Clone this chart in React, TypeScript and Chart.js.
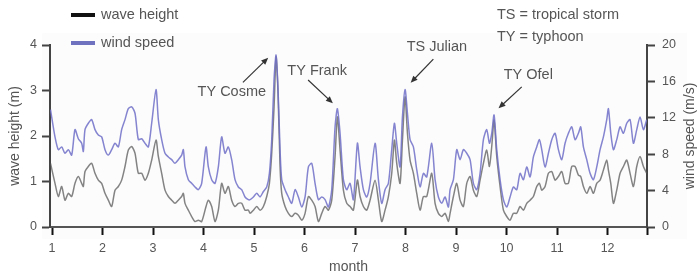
import React, { useEffect, useRef } from "react";
import { Chart, registerables } from "chart.js";

Chart.register(...registerables);

// ---- data (month as decimal) ----
const months = [
  0.97, 1.059, 1.125, 1.191, 1.257, 1.323, 1.389, 1.455, 1.521, 1.587, 1.62, 1.653, 1.719, 1.785, 1.851, 1.917,
  1.983, 2.049, 2.115, 2.181, 2.247, 2.313, 2.379, 2.445, 2.511, 2.577, 2.643, 2.709, 2.775, 2.841, 2.907, 2.973,
  3.059, 3.105, 3.171, 3.237, 3.303, 3.369, 3.435, 3.501, 3.567, 3.6, 3.633, 3.699, 3.765, 3.831, 3.897, 3.963,
  4.049, 4.095, 4.161, 4.227, 4.293, 4.359, 4.425, 4.491, 4.557, 4.623, 4.689, 4.755, 4.821, 4.887,
  4.921, 4.987, 5.053, 5.119, 5.185, 5.251, 5.304, 5.35, 5.396, 5.436, 5.475, 5.515, 5.548, 5.614, 5.68, 5.746,
  5.812, 5.878, 5.944, 6.01, 6.076, 6.142, 6.208, 6.274, 6.34, 6.406, 6.472, 6.538, 6.604, 6.65, 6.703, 6.769,
  6.835, 6.901, 6.967, 7.046, 7.099, 7.165, 7.231, 7.297, 7.396, 7.462, 7.528, 7.594, 7.66, 7.726, 7.779, 7.825,
  7.891, 7.938, 7.99, 8.037, 8.089, 8.155, 8.221, 8.287, 8.353, 8.419, 8.518, 8.584, 8.65, 8.716, 8.782, 8.848,
  8.881, 8.947, 9.013, 9.079, 9.145, 9.211, 9.277, 9.343, 9.409, 9.475, 9.541, 9.607, 9.66, 9.706, 9.752, 9.805,
  9.871, 9.937, 10.003, 10.069, 10.135, 10.201, 10.267, 10.333, 10.399, 10.465, 10.531, 10.597, 10.65, 10.696,
  10.762, 10.828, 10.894, 10.96, 11.026, 11.092, 11.158, 11.224, 11.29, 11.356, 11.422, 11.468, 11.521, 11.587,
  11.653, 11.719, 11.785, 11.851, 11.917, 11.983, 12.016, 12.063, 12.115, 12.181, 12.247, 12.313, 12.379, 12.445,
  12.511, 12.577, 12.643, 12.709, 12.775,
];

const windSpeed = [
  12.9, 9.9, 8.5, 8.8, 8.1, 8.5, 7.9, 10.7, 9.7, 9.2, 8.3, 10.7, 11.4, 11.8, 10.7, 10.1,
  9.9, 8.5, 7.9, 8.5, 9.2, 8.8, 10.7, 11.8, 13.0, 13.2, 12.5, 9.6, 9.7, 9.2, 8.8, 11.4,
  15.1, 11.8, 9.6, 8.1, 7.7, 7.4, 7.0, 7.4, 7.9, 8.5, 6.6, 5.2, 4.8, 4.4, 4.1, 4.8,
  8.8, 6.6, 5.2, 4.8, 6.6, 9.9, 8.1, 8.8, 7.4, 5.2, 4.4, 4.1, 3.3, 3.0,
  3.0, 3.3, 3.7, 3.3, 3.9, 4.4, 5.9, 9.6, 16.2, 18.9, 15.1, 8.5, 5.2, 4.1, 3.3, 2.6,
  4.1, 3.3, 2.2, 3.3, 6.6, 7.0, 4.8, 3.0, 3.3, 3.0, 2.2, 4.1, 11.0, 13.0, 10.3, 5.2,
  4.1, 4.8, 3.0, 9.2, 6.6, 4.1, 3.3, 4.8, 9.2, 5.2, 2.6, 4.1, 4.8, 8.5, 11.4, 9.2,
  6.6, 12.1, 15.1, 12.5, 9.6, 8.8, 6.3, 4.4, 5.9, 5.5, 9.2, 5.2, 3.3, 2.6, 3.3, 2.2,
  4.1, 5.2, 8.5, 7.4, 8.5, 8.1, 7.4, 4.8, 4.1, 5.9, 9.6, 10.7, 9.2, 10.3, 12.3, 8.5,
  5.2, 3.0, 2.2, 3.3, 4.4, 4.1, 5.9, 5.2, 6.6, 5.5, 7.7, 8.8, 9.6, 8.5,
  6.6, 8.1, 9.6, 10.3, 8.5, 7.4, 9.2, 10.3, 11.0, 9.6, 10.3, 11.0, 8.8, 7.4,
  5.9, 5.2, 6.6, 8.5, 9.9, 11.8, 13.0, 10.3, 8.5, 9.6, 11.0, 10.3, 11.4, 11.8,
  9.2, 10.7, 12.1, 10.7, 11.8,
];

const waveHeight = [
  1.4, 0.96, 0.67, 0.89, 0.59, 0.74, 0.67, 0.96, 1.11, 0.96, 0.89, 1.22, 1.33, 1.4, 1.18, 1.03,
  0.96, 0.74, 0.59, 0.45, 0.81, 0.89, 1.03, 1.33, 1.69, 1.77, 1.62, 1.18, 1.18, 1.03, 1.18, 1.47,
  1.91, 1.55, 1.18, 0.81, 0.67, 0.59, 0.52, 0.59, 0.67, 0.74, 0.52, 0.37, 0.23, 0.12, 0.15, 0.12,
  0.45, 0.59, 0.45, 0.12, 0.37, 0.96, 0.74, 0.89, 0.59, 0.45, 0.52, 0.52, 0.37, 0.37,
  0.3, 0.37, 0.45, 0.37, 0.45, 0.67, 0.96, 1.62, 2.64, 3.74, 2.94, 1.33, 0.74, 0.45, 0.3, 0.23,
  0.3, 0.26, 0.15, 0.3, 0.67, 0.59, 0.45, 0.12, 0.3, 0.45, 0.37, 0.59, 1.55, 2.42, 1.69, 0.81,
  0.52, 0.45, 0.37, 1.03, 0.67, 0.45, 0.37, 0.59, 1.03, 0.59, 0.12, 0.37, 0.67, 1.18, 1.91, 1.4,
  0.96, 1.91, 2.86, 2.06, 1.47, 1.18, 0.74, 0.37, 0.67, 0.67, 1.18, 0.52, 0.3, 0.23, 0.3, 0.12,
  0.3, 0.67, 0.96, 0.59, 0.45, 0.96, 1.11, 0.81, 0.67, 1.03, 1.4, 1.69, 1.33, 1.77, 2.35, 1.55,
  0.89, 0.37, 0.23, 0.15, 0.3, 0.3, 0.45, 0.37, 0.52, 0.59, 0.67, 0.89, 0.96, 0.81,
  0.89, 1.18, 1.22, 1.03, 1.11, 1.22, 0.96, 0.96, 1.33, 1.33, 1.14, 1.11, 0.89, 0.74,
  0.89, 0.74, 0.96, 1.03, 1.25, 1.47, 1.25, 0.96, 0.52, 0.81, 1.18, 1.33, 1.47, 1.18,
  0.89, 1.33, 1.55, 1.33, 1.18,
];

const monthTicks = [1, 2, 3, 4, 5, 6, 7, 8, 9, 10, 11, 12];
const waveTicks = [0, 1, 2, 3, 4];
const windTicks = [0, 4, 8, 12, 16, 20];
const monthMin = 0.96;
const monthMax = 12.78;

// storm labels: text centre and arrow (month, wind speed)
const stormLabels = ["TY Cosme", "TY Frank", "TS Julian", "TY Ofel"];
const stormText = [[4.56, 14.8], [6.25, 17.1], [8.62, 19.75], [10.43, 16.7]];
const stormArrowFrom = [[4.78, 15.9], [6.07, 16.15], [8.55, 18.45], [10.3, 15.4]];
const stormArrowTo = [[5.28, 18.6], [6.56, 13.6], [8.1, 15.85], [9.84, 13.05]];

const FONT = '"Liberation Sans", Arial, Helvetica, sans-serif';
const TEXT = "#555";

const overlayPlugin = {
  id: "overlay",
  beforeDraw(chart: any) {
    const { ctx, chartArea } = chart;
    ctx.save();
    ctx.fillStyle = "#fcfcfc";
    ctx.fillRect(chartArea.left - 8, chartArea.top - 12, chartArea.right - chartArea.left + 48, chartArea.bottom - chartArea.top + 24);
    ctx.restore();
  },
  afterDraw(chart: any) {
    const { ctx, chartArea } = chart;
    const xs = chart.scales.x;
    const ys = chart.scales.y2;
    ctx.save();
    ctx.font = `14.5px ${FONT}`;
    ctx.textBaseline = "middle";
    // legend
    ctx.fillStyle = "#111";
    ctx.fillRect(71, 13, 24, 4);
    ctx.fillStyle = "#6f72be";
    ctx.fillRect(71, 41, 24, 4);
    ctx.fillStyle = TEXT;
    ctx.textAlign = "left";
    ctx.fillText("wave height", 101, 15);
    ctx.fillText("wind speed", 101, 43);
    ctx.fillText("TS = tropical storm", 497, 15);
    ctx.fillText("TY = typhoon", 497, 37);
    // right axis title, reading bottom to top
    ctx.save();
    ctx.font = `14px ${FONT}`;
    ctx.textAlign = "center";
    ctx.translate(chart.width - 8, (chartArea.top + chartArea.bottom) / 2);
    ctx.rotate(-Math.PI / 2);
    ctx.fillText("wind speed (m/s)", 0, 0);
    ctx.restore();
    // storm annotations
    ctx.textAlign = "center";
    stormLabels.forEach((label, i) => {
      const tx = xs.getPixelForValue(stormText[i][0]);
      const ty = ys.getPixelForValue(stormText[i][1]);
      ctx.fillStyle = TEXT;
      ctx.fillText(label, tx, ty);
      const x1 = xs.getPixelForValue(stormArrowFrom[i][0]);
      const y1 = ys.getPixelForValue(stormArrowFrom[i][1]);
      const x2 = xs.getPixelForValue(stormArrowTo[i][0]);
      const y2 = ys.getPixelForValue(stormArrowTo[i][1]);
      const ang = Math.atan2(y2 - y1, x2 - x1);
      const head = 7;
      ctx.strokeStyle = "#333";
      ctx.lineWidth = 1.2;
      ctx.beginPath();
      ctx.moveTo(x1, y1);
      ctx.lineTo(x2 - Math.cos(ang) * head * 0.8, y2 - Math.sin(ang) * head * 0.8);
      ctx.stroke();
      ctx.fillStyle = "#333";
      ctx.beginPath();
      ctx.moveTo(x2, y2);
      ctx.lineTo(x2 - head * Math.cos(ang) + 3 * Math.sin(ang), y2 - head * Math.sin(ang) - 3 * Math.cos(ang));
      ctx.lineTo(x2 - head * Math.cos(ang) - 3 * Math.sin(ang), y2 - head * Math.sin(ang) + 3 * Math.cos(ang));
      ctx.closePath();
      ctx.fill();
    });
    ctx.restore();
  },
};

export default function App() {
  const ref = useRef<HTMLCanvasElement | null>(null);

  useEffect(() => {
    if (!ref.current) return;
    const chart = new Chart(ref.current, {
      type: "line",
      data: {
        datasets: [
          {
            label: "wind speed",
            data: months.map((m, i) => ({ x: m, y: windSpeed[i] })),
            yAxisID: "y2",
            borderColor: "rgba(110,110,200,0.85)",
            borderWidth: 1.5,
            pointRadius: 0,
            tension: 0.25,
            fill: false,
          },
          {
            label: "wave height",
            data: months.map((m, i) => ({ x: m, y: waveHeight[i] })),
            yAxisID: "y",
            borderColor: "rgba(85,85,85,0.72)",
            borderWidth: 1.5,
            pointRadius: 0,
            tension: 0.25,
            fill: false,
          },
        ],
      },
      options: {
        responsive: false,
        animation: false,
        devicePixelRatio: 1,
        layout: { padding: { top: 45, left: 0, right: 0, bottom: 0 } },
        plugins: { legend: { display: false }, tooltip: { enabled: false } },
        scales: {
          x: {
            type: "linear",
            min: monthMin,
            max: monthMax,
            afterBuildTicks: (s: any) => {
              s.ticks = [...monthTicks, monthMax].map((v) => ({ value: v }));
            },
            afterFit: (s: any) => {
              s.height = 52;
            },
            ticks: {
              autoSkip: false,
              maxRotation: 0,
              padding: 6,
              color: TEXT,
              font: { family: FONT, size: 12.5 },
              callback: (v: any) => (Number.isInteger(v) ? String(v) : ""),
            },
            grid: { drawOnChartArea: false, drawTicks: true, tickLength: 8, tickColor: "#111", tickWidth: 2 },
            border: { display: true, color: "#555", width: 2 },
            title: { display: true, text: "month", color: TEXT, font: { family: FONT, size: 14 }, padding: { top: 0, bottom: 3 } },
          },
          y: {
            position: "left",
            min: 0,
            max: 4,
            afterBuildTicks: (s: any) => {
              s.ticks = waveTicks.map((v) => ({ value: v }));
            },
            afterFit: (s: any) => {
              s.width = 50;
            },
            ticks: { padding: 5, color: TEXT, font: { family: FONT, size: 12.5 } },
            grid: { drawOnChartArea: false, drawTicks: true, tickLength: 8, tickColor: "#444", tickWidth: 2 },
            border: { display: true, color: "#444", width: 2 },
            title: { display: true, text: "wave height (m)", color: TEXT, font: { family: FONT, size: 14 }, padding: { top: 7, bottom: 0 } },
          },
          y2: {
            position: "right",
            min: 0,
            max: 20,
            afterBuildTicks: (s: any) => {
              s.ticks = windTicks.map((v) => ({ value: v }));
            },
            afterFit: (s: any) => {
              s.width = 51;
            },
            ticks: { padding: 7, color: TEXT, font: { family: FONT, size: 12.5 } },
            grid: { drawOnChartArea: false, drawTicks: true, tickLength: 8, tickColor: "#444", tickWidth: 2 },
            border: { display: true, color: "#444", width: 2 },
            title: { display: false },
          },
        },
      } as any,
      plugins: [overlayPlugin],
    });
    return () => chart.destroy();
  }, []);

  return (
    <div style={{ position: "fixed", left: 0, top: 0, width: 698, height: 279, background: "#fff" }}>
      <canvas ref={ref} width={698} height={279} style={{ display: "block" }} />
    </div>
  );
}
